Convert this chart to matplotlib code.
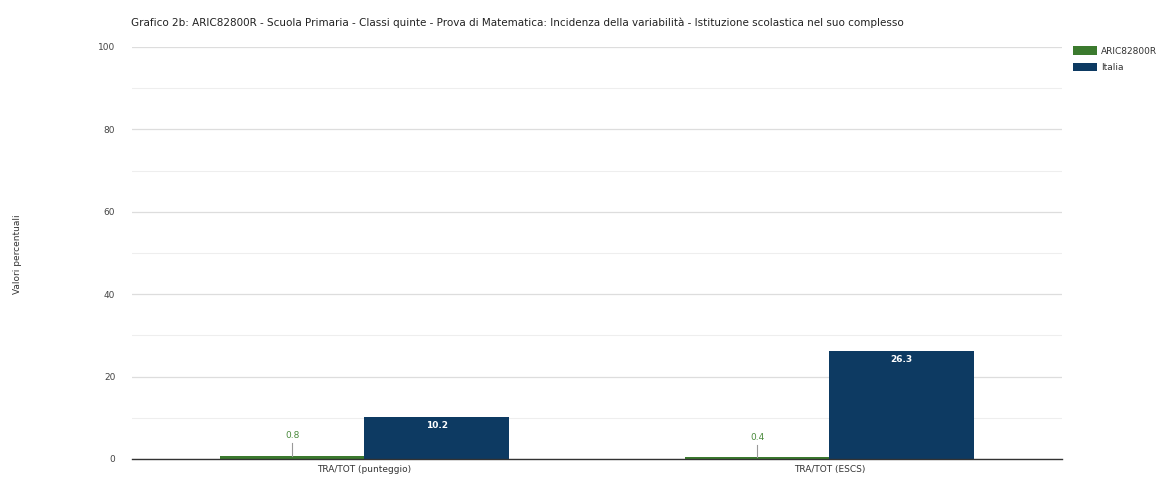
import matplotlib
matplotlib.use("Agg")
import matplotlib.pyplot as plt
import numpy as np

categories = ["TRA/TOT (punteggio)", "TRA/TOT (ESCS)"]
series_names = ["ARIC82800R", "Italia"]
school = [0.8, 0.4]
italia = [10.2, 26.3]
title = "Grafico 2b: ARIC82800R - Scuola Primaria - Classi quinte - Prova di Matematica: Incidenza della variabilità - Istituzione scolastica nel suo complesso"

green = "#3b7a2e"
blue = "#0d3a62"

fig = plt.figure(figsize=(11.66, 4.79), dpi=100)
ax = fig.add_axes([0.1132, 0.0418, 0.7976, 0.8601])

x = np.arange(len(categories))
w = 0.31
ax.bar(x - w / 2, school, w, color=green, label=series_names[0], zorder=3)
ax.bar(x + w / 2, italia, w, color=blue, label=series_names[1], zorder=3)

ax.set_xlim(-0.5, len(categories) - 0.5)
ax.set_ylim(0, 100)
ax.set_yticks(np.arange(0, 101, 20))
ax.set_yticks(np.arange(10, 100, 20), minor=True)
ax.tick_params(axis="y", which="both", length=0, labelsize=6.5, labelcolor="#444444", pad=12)
ax.tick_params(axis="x", length=0, labelsize=6.5, labelcolor="#333333", pad=4)
ax.set_xticks(x)
ax.set_xticklabels(categories)
ax.grid(axis="y", which="major", color="#dddddd", linewidth=0.9, zorder=0)
ax.grid(axis="y", which="minor", color="#eeeeee", linewidth=0.8, zorder=0)
for s in ["top", "right", "left"]:
    ax.spines[s].set_visible(False)
ax.spines["bottom"].set_color("#333333")
ax.spines["bottom"].set_linewidth(1.0)
ax.spines["bottom"].set_zorder(4)

for xi, v in zip(x, school):
    xc = xi - w / 2
    ax.plot([xc, xc], [v, v + 3.0], color="#999999", linewidth=0.8, zorder=4)
    ax.text(xc, v + 3.8, f"{v}", ha="center", va="bottom", fontsize=6.5, color="#4a8a3c", zorder=5)
for xi, v in zip(x, italia):
    xc = xi + w / 2
    ax.text(xc, v - 1.0, f"{v}", ha="center", va="top", fontsize=6.5, color="white", fontweight="bold", zorder=5)

fig.text(0.1123, 0.953, title, fontsize=7.5, color="#222222", ha="left", va="center")
fig.text(0.015, 0.47, "Valori percentuali", rotation=90, fontsize=6.5, color="#333333", ha="center", va="center")

leg = ax.legend(loc="upper left", bbox_to_anchor=(1.008, 1.01), frameon=False, fontsize=6.5,
                handlelength=2.6, handleheight=1.1, borderaxespad=0, labelspacing=0.75, handletextpad=0.5)
for t in leg.get_texts():
    t.set_color("#333333")

fig.savefig("out.png", dpi=100)
